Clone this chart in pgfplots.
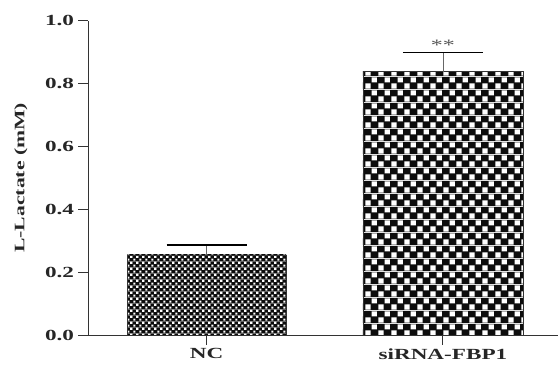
\documentclass[border=0pt]{standalone}
\usepackage{fontspec}
\setmainfont{Liberation Serif}[FakeStretch=1.5]
\usepackage{pgfplots}
\pgfplotsset{compat=1.18}
\usetikzlibrary{patterns.meta}
\pgfdeclarepattern{name=finecheck, type=colored,
  bottom left={\pgfpoint{0bp}{0bp}}, top right={\pgfpoint{5.8bp}{5.8bp}},
  tile size={\pgfpoint{5.8bp}{5.8bp}},
  code={
    \pgfsetfillcolor{black!95}
    \pgfpathrectangle{\pgfpointorigin}{\pgfpoint{5.8bp}{5.8bp}}\pgfusepath{fill}
    \pgfsetfillcolor{white}
    \pgfpathrectangle{\pgfpoint{0.35bp}{0.35bp}}{\pgfpoint{2.2bp}{2.2bp}}
    \pgfpathrectangle{\pgfpoint{3.25bp}{3.25bp}}{\pgfpoint{2.2bp}{2.2bp}}
    \pgfusepath{fill}
  }}
\pgfdeclarepattern{name=coarsecheck, type=colored,
  bottom left={\pgfpoint{0bp}{0bp}}, top right={\pgfpoint{12.6bp}{12.6bp}},
  tile size={\pgfpoint{12.6bp}{12.6bp}},
  code={
    \pgfsetfillcolor{black!95}
    \pgfpathrectangle{\pgfpointorigin}{\pgfpoint{12.6bp}{12.6bp}}\pgfusepath{fill}
    \pgfsetfillcolor{white}
    \pgfpathrectangle{\pgfpoint{0.5bp}{0.5bp}}{\pgfpoint{5.3bp}{5.3bp}}
    \pgfpathrectangle{\pgfpoint{6.8bp}{6.8bp}}{\pgfpoint{5.3bp}{5.3bp}}
    \pgfusepath{fill}
  }}
\definecolor{axgray}{HTML}{333333}
\begin{document}
\begin{tikzpicture}
\useasboundingbox (-88bp,-38bp) rectangle (472bp,335bp);
\begin{axis}[
  at={(0,0)}, anchor=south west,
  scale only axis,
  width=470bp, height=314.3bp,
  xmin=-0.502, xmax=1.487,
  ymin=0, ymax=1.0,
  axis lines*=left,
  axis line style={axgray, line width=0.9bp},
  every tick/.style={axgray, line width=0.9bp},
  tick align=outside,
  major tick length=9.5bp,
  xtick={0,1},
  xticklabels={NC, siRNA-FBP1},
  ytick={0,0.2,0.4,0.6,0.8,1.0},
  tick label style={font=\fontsize{15.5}{17}\selectfont\bfseries, text=black!85},
  xticklabel style={yshift=-0.5bp},
  yticklabel style={xshift=-1bp, /pgf/number format/.cd, fixed, fixed zerofill, precision=1, assume math mode=true},
  ylabel={L-Lactate (mM)},
  ylabel style={font=\fontsize{14.5}{16}\selectfont\bfseries, text=black!85,
    at={(axis description cs:-0.1426,0.5)}, anchor=center},
  clip=false,
]
\addplot[ybar, bar width=159bp, bar shift=0pt, draw=black!80, line width=0.5bp,
  pattern={finecheck}] coordinates {(0,0.255)};
\addplot[ybar, bar width=160bp, bar shift=0pt, draw=black!80, line width=0.5bp,
  pattern={coarsecheck}] coordinates {(1,0.838)};
\addplot[draw=none, mark=none,
  error bars/.cd, y dir=plus, y explicit,
  error bar style={black!60, line width=0.8bp},
  error mark options={black, line width=1.8bp, mark size=40bp, rotate=90}]
  coordinates {(0,0.255) +- (0,0.032) (1,0.838) +- (0,0.061)};
\node[font=\fontsize{16}{18}\selectfont, text=black!65] at (axis cs:1,0.922) {**};
\end{axis}
\end{tikzpicture}
\end{document}
